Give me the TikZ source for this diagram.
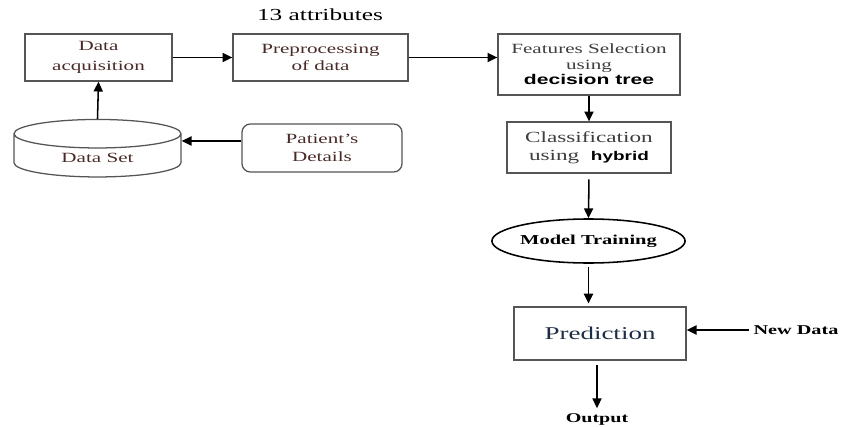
\documentclass[tikz,border=0pt]{standalone}
\usepackage{fontspec}
\setmainfont[FakeStretch=1.5]{Liberation Serif}
\newfontfamily\arialfont[FakeStretch=1.5]{Liberation Sans}
\usetikzlibrary{shapes.geometric,arrows.meta}
\definecolor{txtbrown}{RGB}{72,42,40}
\definecolor{txtnavy}{RGB}{30,45,70}
\definecolor{txtgray}{RGB}{62,62,62}
\definecolor{linegray}{RGB}{85,85,85}

\begin{document}
\begin{tikzpicture}[x=0.025cm, y=-0.025cm,
	box/.style={draw=linegray, line width=0.9pt, align=center, inner sep=1pt},
	arr/.style={draw=black, line width=1.1pt, -{Triangle[length=7pt,width=6.5pt]}}]
	\useasboundingbox (0,0) rectangle (843,427);
	%\draw[help lines] (0,0) grid[step=50] (843,427);
	\node (attr) at (320,15) {\fontsize{12}{14}\selectfont 13 attributes};
	\node[box, text=txtbrown, minimum width=3.675cm, minimum height=1.175cm,
		font=\fontsize{10}{14}\selectfont] (acq) at (98.5,57.5) {Data\\acquisition};
	\node[box, text=txtbrown, minimum width=4.375cm, minimum height=1.175cm,
		font=\fontsize{10}{12.5}\selectfont] (prep) at (320.5,57.5) {Preprocessing\\of data};
	\node[box, text=txtgray, minimum width=4.55cm, minimum height=1.525cm,
		font=\fontsize{10}{11}\selectfont] (feat) at (589,64.5)
		{Features Selection\\using\\{\arialfont\bfseries\color{black}decision tree}};
	\node[box, text=txtgray, minimum width=4.1cm, minimum height=1.275cm,
		font=\fontsize{11}{12.5}\selectfont] (class) at (589,147.5)
		{Classification\\using\ \ {\arialfont\bfseries\fontsize{9}{12}\selectfont\color{black}hybrid}};
	\node[cylinder, shape border rotate=90, draw=linegray, line width=0.9pt, aspect=0.35,
		minimum width=4.175cm, minimum height=1.375cm, text=txtbrown,
		font=\fontsize{10}{12}\selectfont] (dataset) at (97.5,158) {Data Set};
	\node[box, rounded corners=6pt, text=txtbrown, minimum width=4cm, minimum height=1.2cm,
		font=\fontsize{10}{13}\selectfont] (patient) at (322,148) {Patient's\\Details};
	\node[ellipse, draw=black, line width=1.1pt, minimum width=4.575cm, minimum height=1.1cm,
		inner sep=0pt, font=\fontsize{9.7}{12}\selectfont\bfseries] (train) at (588.5,241) {Model Training};
	\node[box, text=txtnavy, minimum width=4.3cm, minimum height=1.325cm,
		font=\fontsize{12.8}{14}\selectfont] (pred) at (600,333.5) {Prediction};
	\node[font=\fontsize{9.6}{12}\selectfont\bfseries] (newdata) at (796,330) {New Data};
	\node[font=\fontsize{9.5}{12}\selectfont\bfseries] (output) at (597,419) {Output};
	\draw[arr] (acq.east) -- (prep.west);
	\draw[arr] (prep.east) -- (prep.east -| feat.west);
	\draw[arr] (feat.south) -- (class.north);
	\draw[arr, shorten <=4pt] (class.south) -- (train.north);
	\draw[arr, shorten <=2pt, shorten >=2pt] (train.south) -- (train.south |- pred.north);
	\draw[arr, shorten <=3pt] (pred.south -| output.north) -- (output.north);
	\draw[arr] (newdata.west) -- (newdata.west -| pred.east);
	\draw[arr] (dataset.north) -- (acq.south);
	\draw[arr] ([yshift=5pt]patient.west) -- ([yshift=5pt]patient.west -| dataset.east);
\end{tikzpicture}
\end{document}
